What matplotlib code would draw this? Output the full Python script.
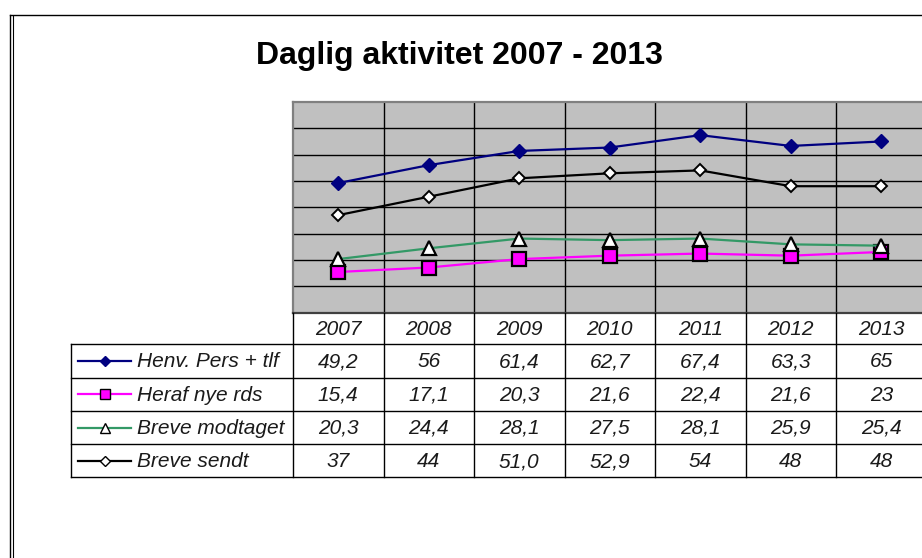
import matplotlib
matplotlib.use("Agg")
import matplotlib.pyplot as plt
from matplotlib.lines import Line2D

plt.rcParams['font.family'] = ['Liberation Sans', 'DejaVu Sans']

title = "Daglig aktivitet 2007 - 2013"
years = ["2007", "2008", "2009", "2010", "2011", "2012", "2013"]
series_names = ["Henv. Pers + tlf", "Heraf nye rds", "Breve modtaget", "Breve sendt"]
henv_labels = ["49,2", "56", "61,4", "62,7", "67,4", "63,3", "65"]
heraf_labels = ["15,4", "17,1", "20,3", "21,6", "22,4", "21,6", "23"]
modtaget_labels = ["20,3", "24,4", "28,1", "27,5", "28,1", "25,9", "25,4"]
sendt_labels = ["37", "44", "51,0", "52,9", "54", "48", "48"]

def to_num(lst):
    return [float(s.replace(',', '.')) for s in lst]

all_labels = [henv_labels, heraf_labels, modtaget_labels, sendt_labels]
all_values = [to_num(l) for l in all_labels]

styles = [
    dict(color="#000080", marker="D", ms=7, mfc="#000080", mec="#000080", mew=1.0),
    dict(color="#FF00FF", marker="s", ms=9.5, mfc="#FF00FF", mec="black", mew=1.6),
    dict(color="#339966", marker="^", ms=9.5, mfc="white", mec="black", mew=1.6),
    dict(color="black", marker="D", ms=6.5, mfc="white", mec="black", mew=1.4),
]

W, H = 922, 558
fig = plt.figure(figsize=(W / 100, H / 100), dpi=100)
fig.patch.set_facecolor("white")

# plot area in pixel coordinates
px_left, px_right, px_top, px_bottom = 293, 926.5, 102, 312.5
ax = fig.add_axes([px_left / W, 1 - px_bottom / H, (px_right - px_left) / W, (px_bottom - px_top) / H])
ax.set_facecolor("#C0C0C0")
n = len(years)
x = list(range(n))
for vals, st in zip(all_values, styles):
    ax.plot(x, vals, lw=1.6, color=st["color"], marker=st["marker"], ms=st["ms"],
            mfc=st["mfc"], mec=st["mec"], mew=st["mew"], zorder=3, clip_on=False)
ax.set_xlim(-0.5, n - 0.5)
ax.set_ylim(0, 80)
for yv in range(10, 80, 10):
    ax.axhline(yv, color="black", lw=1.0, zorder=1)
for xv in range(1, n):
    ax.axvline(xv - 0.5, color="black", lw=1.0, zorder=1)
ax.set_xticks([])
ax.set_yticks([])
for side in ["top", "left"]:
    ax.spines[side].set_color("#808080")
    ax.spines[side].set_linewidth(1.6)
ax.spines["right"].set_visible(False)
ax.spines["bottom"].set_color("#404040")
ax.spines["bottom"].set_linewidth(1.6)

# overlay in pixel coords
ov = fig.add_axes([0, 0, 1, 1], zorder=5)
ov.set_xlim(0, W)
ov.set_ylim(H, 0)
ov.axis("off")
ov.patch.set_alpha(0)

# chart border
ov.add_line(Line2D([9.5, 9.5], [14.5, H], color="black", lw=1.0))
ov.add_line(Line2D([12.5, 12.5], [15.5, H], color="black", lw=0.8))
ov.add_line(Line2D([9.5, W], [14.5, 14.5], color="black", lw=1.0))

ov.text(459, 56, title, ha="center", va="center", fontsize=23, fontweight="bold")

# table
col_w = (px_right - px_left) / n
row_edges = [312.5, 344, 377.5, 411, 444, 477]
tcol = "#1a1a1a"
fs = 15
for i in range(1, n + 1):
    xe = px_left + i * col_w
    ov.add_line(Line2D([xe, xe], [row_edges[0], row_edges[-1]], color="black", lw=1.0))
ov.add_line(Line2D([px_left, px_left], [row_edges[0], row_edges[-1]], color="black", lw=1.0))
ov.add_line(Line2D([71, 71], [row_edges[1], row_edges[-1]], color="black", lw=1.0))
for ye in row_edges[1:]:
    ov.add_line(Line2D([71, W], [ye, ye], color="black", lw=1.0))

for i, yr in enumerate(years):
    ov.text(px_left + (i + 0.5) * col_w, (row_edges[0] + row_edges[1]) / 2 + 1, yr,
            ha="center", va="center", fontsize=fs, style="italic", color=tcol)

for r, (name, labels, st) in enumerate(zip(series_names, all_labels, styles)):
    yc = (row_edges[r + 1] + row_edges[r + 2]) / 2 + 1
    for i, lab in enumerate(labels):
        ov.text(px_left + (i + 0.5) * col_w, yc, lab, ha="center", va="center",
                fontsize=fs, style="italic", color=tcol)
    ov.add_line(Line2D([78, 131], [yc - 1, yc - 1], color=st["color"], lw=1.6))
    ov.add_line(Line2D([104.5], [yc - 1], marker=st["marker"], ms=st["ms"] * 0.75,
                       mfc=st["mfc"], mec=st["mec"], mew=1.0, lw=0))
    ov.text(137, yc, name, ha="left", va="center", fontsize=fs, style="italic", color=tcol)

fig.savefig("out.png", dpi=100)
